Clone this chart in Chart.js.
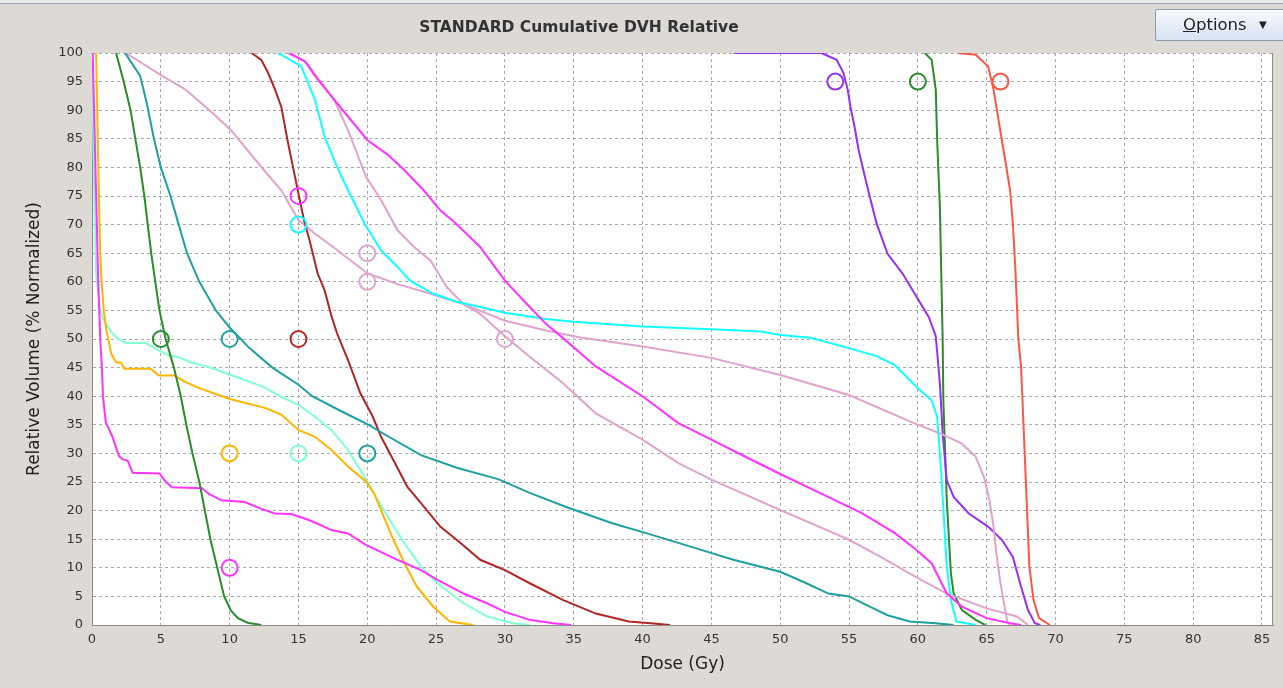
<!DOCTYPE html>
<html>
<head>
<meta charset="utf-8">
<script src="https://cdn.jsdelivr.net/npm/chart.js@4.4.1/dist/chart.umd.min.js"></script>
<style>
html,body{margin:0;padding:0;background:#dddad6;overflow:hidden}
#wrap{position:relative;width:1283px;height:688px;}
#topbar{position:absolute;left:0;top:0;width:1283px;height:3px;background:#ececec;border-bottom:1px solid #9aa5b5;}
#title{position:absolute;top:17px;left:0;width:1158px;text-align:center;font:bold 15.5px "DejaVu Sans";line-height:20px;color:#333;}
#opt{position:absolute;left:1155px;top:9px;width:140px;height:32px;box-sizing:border-box;border:1px solid #8b9bb0;border-radius:2px;background:linear-gradient(#f8fafd,#d6e3f1);font:16.5px "DejaVu Sans";color:#222;}
#opt .t{position:absolute;left:27px;top:5px;line-height:20px;}
#opt .t u{text-decoration:underline;}
#opt .a{position:absolute;left:103px;top:7px;font-size:10px;line-height:16px;}
canvas{position:absolute;left:0;top:0;}
</style>
</head>
<body>
<div id="wrap">
<canvas id="c" width="1283" height="688"></canvas>
<div id="topbar"></div>
<div id="title">STANDARD Cumulative DVH Relative</div>
<div id="opt"><span class="t"><u>O</u>ptions</span><span class="a">▼</span></div>
</div>
<script>
// ---- axis ticks ----
const xTicks = [0,5,10,15,20,25,30,35,40,45,50,55,60,65,70,75,80,85];
const yTicks = [0,5,10,15,20,25,30,35,40,45,50,55,60,65,70,75,80,85,90,95,100];
const xMax = 85.8;

// ---- DVH curves (dose Gy / relative volume %) ----
const greenLowDose = [1.75,2.3,2.8,3.15,3.5,3.8,4.05,4.3,4.6,4.9,5.35,5.95,6.45,6.85,7.3,7.8,8.2,8.6,9.1,9.6,10.1,10.6,11.3,12.3];
const greenLowVol  = [100,95,90,85,80,75,70,65,60,55,50,45,40,35,30,25,20,15,10,5,2.5,1.2,0.4,0];

const tealDose = [2.4,3.5,4.0,4.5,5.0,5.7,6.3,6.9,7.8,9.0,10.0,10.8,11.4,13.1,15.0,16.0,18.0,20.1,21.5,23.9,26.5,29.5,31.8,34.6,37.8,40.2,43.9,46.6,50.0,51.9,53.5,55.0,56.5,57.8,59.4,61.3,62.6];
const tealVol  = [100,96,91,85,80,75,70,65,60,55,52,50,48.5,45,42,40,37.5,35,33,29.7,27.5,25.5,23.1,20.5,17.8,16.1,13.4,11.4,9.3,7.3,5.5,5,3.2,1.7,0.6,0.3,0];

const pinkHighDose = [2.45,5.1,6.8,8.9,10.1,11.3,12.5,13.75,15,16.2,17.4,20,22.2,24.6,27,30,33,35.4,40,45,50,55,60,61.6,63.2,64.2,64.8,65.2,65.5,65.7,66.0,66.3,66.5,66.7];
const pinkHighVol  = [100,96,93.6,89.2,86.5,83,79.5,76,70.8,68.4,66.3,61.5,59.6,57.9,56.1,53.2,51.5,50.3,48.7,46.7,43.7,40.2,35,33.5,31.7,29.4,25.9,21.8,17.2,12.5,7.3,3.2,0.6,0];

const pinkLowDose = [14.3,15.5,16.3,17.6,18.6,19.9,21,22.2,23.4,24.6,25.8,27,28.2,30,31.8,34.2,36.6,40,42.6,45,50,53.4,55,57.3,60,62.1,65,67.2,68];
const pinkLowVol  = [100,98.5,96,91.8,86.5,78.4,74.3,69,66.1,63.7,59,56.1,54.4,50.5,46.9,42.3,37,32.4,28.3,25.4,20.1,16.6,14.9,11.9,8.2,5.5,2.9,1.5,0];

const magentaHighDose = [14.3,15.5,16.2,17.4,18.6,20,21.5,22.7,24.1,25.3,26.3,28.2,30,31.8,33,34.2,36.6,40,42.6,45,47.4,50,53.4,55.9,58.3,59.7,61,62.1,63.2,65,66.7,67.5];
const magentaHighVol  = [100,98.5,96,92.4,88.9,84.8,82.2,79.5,76,72.5,70.5,66.1,60.2,55.6,52.6,50.2,45.2,40,35.3,32.4,29.5,26.4,22.5,19.6,16.1,13.5,10.8,5.5,3.2,1.2,0.3,0];

const cyanDose = [13.5,15.2,16.2,16.9,17.8,18.6,19.8,21,22.2,23.1,24.8,26.5,28.2,30,33,35,40,45,48.6,50,52.2,55,57,58.3,60,61,61.4,61.7,62.1,62.4,62.8,64.2];
const cyanVol  = [100,97.7,91.8,85.4,80.1,76,70.2,65.5,62.6,60.2,57.9,56.5,55.6,54.6,53.5,53,52.2,51.7,51.3,50.7,50.2,48.4,47,45.5,41.4,39.3,36.4,26.5,10.2,4.4,0.6,0];

const purpleDose = [46.6,53,54.1,54.6,54.9,55.1,55.4,55.7,56.1,56.5,57,57.8,58.9,60,60.8,61.3,61.6,61.8,62.1,62.6,63.7,65.1,66.1,66.9,67.5,68,68.5,68.9];
const purpleVol  = [100,100,98.8,96.5,93.6,90.6,87.1,83,78.9,74.9,70.2,64.9,61.4,57,53.8,50.5,42.2,33.5,25.3,22.4,19.5,17.2,14.9,11.9,6.7,2.6,0.3,0];

const greenHighDose = [60.5,61,61.3,61.4,61.6,61.7,61.8,61.85,62.1,62.4,62.6,63.2,64.2,64.9];
const greenHighVol  = [100,98.8,93.6,84.8,73.1,61.4,50,39.3,21.9,9,5.5,2.6,0.9,0];

const redDose = [62.9,64.2,65.1,65.5,65.9,66.3,66.7,66.9,67.1,67.3,67.5,67.6,67.9,68.1,68.4,68.8,69.6];
const redVol  = [100,99.7,97.7,93.6,87.7,81.9,76,70.2,61.4,50,45,39.3,21.9,10.2,4.4,1.2,0];

const firebrickDose = [11.6,12.3,12.8,13.3,13.75,14.2,14.6,15,15.4,15.8,16.4,16.9,17.4,17.8,18.6,19.5,20.4,21,21.9,22.9,23.9,25.3,26.8,28.2,30,31.8,34.2,36.6,39,41,42];
const firebrickVol  = [100,98.8,96.5,93.6,90.6,84.8,80.1,75.4,70.8,67.3,61.4,58.5,54,51,46.3,40.5,36.4,32.9,28.8,24.2,21.3,17.2,14.3,11.4,9.6,7.3,4.4,2,0.6,0.2,0];

const magentaLowDose = [0.05,0.2,0.35,0.45,0.53,0.6,0.72,0.8,0.93,1.0,1.5,1.95,2.2,2.6,2.95,4.9,5.3,5.8,8.0,8.5,9.4,11.1,12.3,13.3,14.5,15.7,16.4,17.4,18.6,19.9,22.2,23.9,25.1,27,28.7,30,31.8,33.5,34.8];
const magentaLowVol  = [100,85,70,60,55,50,45,40,37,35.5,32.8,29.6,29,28.7,26.6,26.5,25.2,24.1,23.9,22.9,21.8,21.5,20.3,19.5,19.4,18.4,17.7,16.6,16,14,11.4,9.6,7.9,5.5,3.8,2.3,0.9,0.3,0];

const orangeDose = [0.3,0.5,0.6,0.7,0.85,1.05,1.4,1.76,2.1,2.36,4.26,4.86,6.0,6.76,7.7,10,12.5,13.75,15,16.2,17.4,18.6,19.9,20.5,21.2,21.9,22.7,23.6,24.8,26,27.7];
const orangeVol  = [100,75,65,60,55,51.5,47.4,45.9,45.9,44.8,44.8,43.6,43.6,42.5,41.5,39.5,38,36.8,34.1,32.9,30.6,27.7,25.1,23,18.9,14.9,10.8,6.7,3.2,0.6,0];

const aquaDose = [0,0.1,0.2,0.3,0.55,0.8,1.05,1.5,1.9,2.5,3.9,4.6,5.6,6.3,7.2,8.2,10,12.5,13.75,15,16.2,17.4,18.6,19.8,20.5,21.5,22.7,23.9,25.1,27,28.7,30.6,31.8];
const aquaVol  = [100,85,70,61.4,55.6,53.5,52.5,50.9,50,49.3,49.3,48.3,47.1,46.8,45.9,45.3,43.8,41.6,39.9,38.5,36.4,34.1,30.6,25.9,23,18.9,14.3,10.2,7.3,3.8,1.5,0.3,0];

// ---- constraint markers ----
const markDose   = [54,60,66,15,15,20,20,30,5,10,15,10,15,20,10];
const markVol    = [95,95,95,75,70,65,60,50,50,50,50,30,30,30,10];
const markSeries = ['purple','greenHigh','red','magentaHigh','cyan','pinkHigh','pinkHigh','pinkHigh','greenLow','teal','firebrick','orange','aqua','teal','magentaHigh'];

// ---- styles ----
const colors = {
  greenLow:'#2a8c2a', teal:'#1fa0a0', pinkHigh:'#e0a3cc', pinkLow:'#e0a3cc',
  magentaHigh:'#ff33ff', cyan:'#11ffff', purple:'#9530f5', greenHigh:'#2a8c2a',
  red:'#ff5546', firebrick:'#b22626', magentaLow:'#ff33ff', orange:'#ffb400', aqua:'#7fffd4'
};

const curves = [
  ['greenLow', greenLowDose, greenLowVol],
  ['teal', tealDose, tealVol],
  ['firebrick', firebrickDose, firebrickVol],
  ['magentaHigh', magentaHighDose, magentaHighVol],
  ['cyan', cyanDose, cyanVol],
  ['pinkHigh', pinkHighDose, pinkHighVol],
  ['pinkLow', pinkLowDose, pinkLowVol],
  ['purple', purpleDose, purpleVol],
  ['greenHigh', greenHighDose, greenHighVol],
  ['red', redDose, redVol],
  ['magentaLow', magentaLowDose, magentaLowVol],
  ['orange', orangeDose, orangeVol],
  ['aqua', aquaDose, aquaVol]
];

const pts = (d, v) => d.map((x, i) => ({x: x, y: v[i]}));

const datasets = [{
  label: 'constraints',
  data: pts(markDose, markVol),
  showLine: false,
  pointRadius: 8,
  pointHoverRadius: 8,
  pointBorderWidth: 2,
  pointStyle: 'circle',
  pointBackgroundColor: 'rgba(0,0,0,0)',
  pointBorderColor: markSeries.map(k => colors[k]),
  borderColor: 'rgba(0,0,0,0)'
}];
curves.forEach(([key, d, v]) => {
  datasets.push({
    label: key,
    data: pts(d, v),
    borderColor: colors[key],
    borderWidth: 2,
    pointRadius: 0,
    fill: false,
    tension: 0
  });
});

const frame = {
  id: 'frame',
  beforeDraw(c) {
    const a = c.chartArea, g = c.ctx;
    g.save(); g.fillStyle = '#ffffff';
    g.fillRect(a.left, a.top, a.right - a.left, a.bottom - a.top);
    g.restore();
  },
  afterDraw(c) {
    const a = c.chartArea, g = c.ctx;
    g.save(); g.strokeStyle = '#8a8a8a'; g.lineWidth = 1;
    g.beginPath(); g.moveTo(a.right - 0.5, a.top); g.lineTo(a.right - 0.5, a.bottom); g.stroke();
    g.restore();
  }
};

const fam = 'DejaVu Sans';
new Chart(document.getElementById('c').getContext('2d'), {
  type: 'line',
  data: { datasets: datasets },
  options: {
    responsive: false,
    animation: false,
    devicePixelRatio: 1,
    layout: { padding: { left: 0, right: 3, top: 53, bottom: 0 } },
    plugins: { legend: { display: false }, tooltip: { enabled: false }, title: { display: false } },
    elements: { point: { radius: 0 }, line: { borderWidth: 2, tension: 0 } },
    scales: {
      x: {
        type: 'linear', min: 0, max: xMax,
        afterBuildTicks: s => { s.ticks = xTicks.map(v => ({ value: v })); },
        afterFit: s => { s.height = 63; },
        grid: { color: '#a9a9a9', lineWidth: 1, drawTicks: false },
        border: { display: true, color: '#8a8a8a', width: 1, dash: [3, 3] },
        ticks: { autoSkip: false, maxRotation: 0, padding: 7, color: '#333', font: { family: fam, size: 13 } },
        title: { display: true, text: 'Dose (Gy)', color: '#222', font: { family: fam, size: 17 }, padding: { top: 0, bottom: 13 } }
      },
      y: {
        type: 'linear', min: 0, max: 100,
        afterBuildTicks: s => { s.ticks = yTicks.map(v => ({ value: v })); },
        afterFit: s => { s.width = 92; },
        grid: { color: '#a9a9a9', lineWidth: 1, drawTicks: false },
        border: { display: true, color: '#8a8a8a', width: 1, dash: [3, 3] },
        ticks: { autoSkip: false, padding: 9, color: '#333', font: { family: fam, size: 13 } },
        title: { display: true, text: 'Relative Volume (% Normalized)', color: '#222', font: { family: fam, size: 17 }, padding: { top: 24, bottom: 0 } }
      }
    }
  },
  plugins: [frame]
});
</script>
</body>
</html>
